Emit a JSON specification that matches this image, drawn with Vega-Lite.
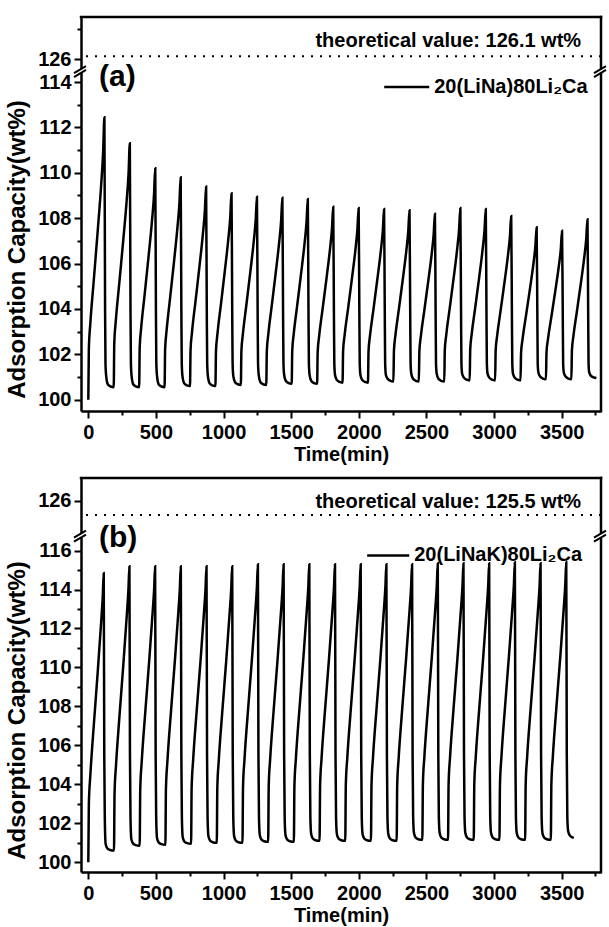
{
"$schema": "https://vega.github.io/schema/vega-lite/v6.json",
"padding": {"left": 5, "top": 15, "right": 6, "bottom": 4},
"background": "white",
"config": {
  "font": "Liberation Sans",
  "view": {"stroke": null},
  "axis": {"domainColor": "black", "domainWidth": 2.5, "tickColor": "black", "tickWidth": 2, "labelColor": "black", "labelFontSize": 20, "labelFontWeight": "bold", "titleColor": "black", "titleFontWeight": "bold", "titleFontSize": 20, "grid": false, "labelOverlap": false, "labelBound": false, "labelFlush": false, "tickCount": 100, "format": "d"}
},
"datasets": {
"a": [
{"t":0,"v":100.0},{"t":4,"v":102.24},{"t":15,"v":103.36},{"t":40,"v":105.23},{"t":70,"v":107.47},{"t":95,"v":109.46},{"t":110,"v":110.96},{"t":119,"v":112.45},{"t":124,"v":104.0},{"t":127,"v":101.6},{"t":132,"v":101.05},{"t":145,"v":100.67},{"t":165,"v":100.58},
{"t":188,"v":100.55},{"t":192,"v":102.49},{"t":203,"v":103.45},{"t":228,"v":105.07},{"t":258,"v":107.0},{"t":283,"v":108.72},{"t":298,"v":110.01},{"t":307,"v":111.3},{"t":312,"v":104.0},{"t":315,"v":101.6},{"t":320,"v":101.05},{"t":333,"v":100.67},{"t":353,"v":100.58},
{"t":376,"v":100.55},{"t":380,"v":102.29},{"t":391,"v":103.16},{"t":416,"v":104.6},{"t":446,"v":106.34},{"t":471,"v":107.88},{"t":486,"v":109.04},{"t":495,"v":110.2},{"t":500,"v":104.0},{"t":503,"v":101.6},{"t":508,"v":101.05},{"t":521,"v":100.67},{"t":541,"v":100.58},
{"t":564,"v":100.55},{"t":568,"v":102.22},{"t":579,"v":103.05},{"t":604,"v":104.44},{"t":634,"v":106.1},{"t":659,"v":107.58},{"t":674,"v":108.69},{"t":683,"v":109.8},{"t":688,"v":104.0},{"t":691,"v":101.6},{"t":696,"v":101.05},{"t":709,"v":100.72},{"t":729,"v":100.63},
{"t":752,"v":100.6},{"t":756,"v":102.18},{"t":767,"v":102.98},{"t":792,"v":104.3},{"t":822,"v":105.88},{"t":847,"v":107.29},{"t":862,"v":108.34},{"t":871,"v":109.4},{"t":876,"v":104.0},{"t":879,"v":101.6},{"t":884,"v":101.05},{"t":897,"v":100.72},{"t":917,"v":100.63},
{"t":940,"v":100.6},{"t":944,"v":102.13},{"t":955,"v":102.9},{"t":980,"v":104.17},{"t":1010,"v":105.7},{"t":1035,"v":107.06},{"t":1050,"v":108.08},{"t":1059,"v":109.1},{"t":1064,"v":104.0},{"t":1067,"v":101.6},{"t":1072,"v":101.05},{"t":1085,"v":100.77},{"t":1105,"v":100.68},
{"t":1128,"v":100.65},{"t":1132,"v":102.14},{"t":1143,"v":102.89},{"t":1168,"v":104.14},{"t":1198,"v":105.63},{"t":1223,"v":106.96},{"t":1238,"v":107.95},{"t":1247,"v":108.95},{"t":1252,"v":104.0},{"t":1255,"v":101.6},{"t":1260,"v":101.1},{"t":1273,"v":100.77},{"t":1293,"v":100.68},
{"t":1316,"v":100.65},{"t":1320,"v":102.14},{"t":1331,"v":102.88},{"t":1356,"v":104.12},{"t":1386,"v":105.6},{"t":1411,"v":106.92},{"t":1426,"v":107.91},{"t":1435,"v":108.9},{"t":1440,"v":104.0},{"t":1443,"v":101.6},{"t":1448,"v":101.1},{"t":1461,"v":100.82},{"t":1481,"v":100.73},
{"t":1504,"v":100.7},{"t":1508,"v":102.17},{"t":1519,"v":102.9},{"t":1544,"v":104.12},{"t":1574,"v":105.59},{"t":1599,"v":106.89},{"t":1614,"v":107.87},{"t":1623,"v":108.85},{"t":1628,"v":104.0},{"t":1631,"v":101.6},{"t":1636,"v":101.1},{"t":1649,"v":100.82},{"t":1669,"v":100.73},
{"t":1692,"v":100.7},{"t":1696,"v":102.1},{"t":1707,"v":102.81},{"t":1732,"v":103.98},{"t":1762,"v":105.38},{"t":1787,"v":106.63},{"t":1802,"v":107.56},{"t":1811,"v":108.5},{"t":1816,"v":104.0},{"t":1819,"v":101.6},{"t":1824,"v":101.1},{"t":1837,"v":100.87},{"t":1857,"v":100.78},
{"t":1880,"v":100.75},{"t":1884,"v":102.14},{"t":1895,"v":102.83},{"t":1920,"v":103.98},{"t":1950,"v":105.37},{"t":1975,"v":106.6},{"t":1990,"v":107.53},{"t":1999,"v":108.45},{"t":2004,"v":104.0},{"t":2007,"v":101.6},{"t":2012,"v":101.1},{"t":2025,"v":100.87},{"t":2045,"v":100.78},
{"t":2068,"v":100.75},{"t":2072,"v":102.13},{"t":2083,"v":102.82},{"t":2108,"v":103.96},{"t":2138,"v":105.34},{"t":2163,"v":106.56},{"t":2178,"v":107.48},{"t":2187,"v":108.4},{"t":2192,"v":104.0},{"t":2195,"v":101.6},{"t":2200,"v":101.1},{"t":2213,"v":100.92},{"t":2233,"v":100.83},
{"t":2256,"v":100.8},{"t":2260,"v":102.16},{"t":2271,"v":102.84},{"t":2296,"v":103.97},{"t":2326,"v":105.33},{"t":2351,"v":106.54},{"t":2366,"v":107.44},{"t":2375,"v":108.35},{"t":2380,"v":104.0},{"t":2383,"v":101.6},{"t":2388,"v":101.15},{"t":2401,"v":100.92},{"t":2421,"v":100.83},
{"t":2444,"v":100.8},{"t":2448,"v":102.13},{"t":2459,"v":102.8},{"t":2484,"v":103.91},{"t":2514,"v":105.24},{"t":2539,"v":106.42},{"t":2554,"v":107.31},{"t":2563,"v":108.2},{"t":2568,"v":104.0},{"t":2571,"v":101.6},{"t":2576,"v":101.15},{"t":2589,"v":100.92},{"t":2609,"v":100.83},
{"t":2632,"v":100.8},{"t":2636,"v":102.18},{"t":2647,"v":102.87},{"t":2672,"v":104.01},{"t":2702,"v":105.39},{"t":2727,"v":106.61},{"t":2742,"v":107.53},{"t":2751,"v":108.45},{"t":2756,"v":104.0},{"t":2759,"v":101.6},{"t":2764,"v":101.15},{"t":2777,"v":100.97},{"t":2797,"v":100.88},
{"t":2820,"v":100.85},{"t":2824,"v":102.21},{"t":2835,"v":102.89},{"t":2860,"v":104.02},{"t":2890,"v":105.38},{"t":2915,"v":106.59},{"t":2930,"v":107.49},{"t":2939,"v":108.4},{"t":2944,"v":104.0},{"t":2947,"v":101.6},{"t":2952,"v":101.15},{"t":2965,"v":100.97},{"t":2985,"v":100.88},
{"t":3008,"v":100.85},{"t":3012,"v":102.16},{"t":3023,"v":102.81},{"t":3048,"v":103.9},{"t":3078,"v":105.2},{"t":3103,"v":106.36},{"t":3118,"v":107.23},{"t":3127,"v":108.1},{"t":3132,"v":104.0},{"t":3135,"v":101.6},{"t":3140,"v":101.15},{"t":3153,"v":100.97},{"t":3173,"v":100.88},
{"t":3196,"v":100.85},{"t":3200,"v":102.07},{"t":3211,"v":102.67},{"t":3236,"v":103.69},{"t":3266,"v":104.9},{"t":3291,"v":105.98},{"t":3306,"v":106.79},{"t":3315,"v":107.6},{"t":3320,"v":104.0},{"t":3323,"v":101.6},{"t":3328,"v":101.2},{"t":3341,"v":101.02},{"t":3361,"v":100.93},
{"t":3384,"v":100.9},{"t":3388,"v":102.08},{"t":3399,"v":102.67},{"t":3424,"v":103.65},{"t":3454,"v":104.83},{"t":3479,"v":105.88},{"t":3494,"v":106.66},{"t":3503,"v":107.45},{"t":3508,"v":104.0},{"t":3511,"v":101.6},{"t":3516,"v":101.2},{"t":3529,"v":101.02},{"t":3549,"v":100.93},
{"t":3572,"v":100.9},{"t":3576,"v":102.17},{"t":3587,"v":102.8},{"t":3612,"v":103.86},{"t":3642,"v":105.13},{"t":3667,"v":106.26},{"t":3682,"v":107.1},{"t":3691,"v":107.95},{"t":3696,"v":104.0},{"t":3699,"v":101.6},{"t":3704,"v":101.2},{"t":3717,"v":101.05},{"t":3737,"v":100.98},{"t":3757,"v":100.95}
],
"b": [
{"t":0,"v":100.0},{"t":4,"v":102.97},{"t":15,"v":104.46},{"t":40,"v":106.98},{"t":70,"v":109.8},{"t":95,"v":112.33},{"t":107,"v":113.66},{"t":114,"v":114.85},{"t":118,"v":105.5},{"t":122,"v":102.3},{"t":128,"v":100.95},{"t":140,"v":100.72},{"t":160,"v":100.63},
{"t":190,"v":100.6},{"t":194,"v":103.52},{"t":205,"v":104.98},{"t":230,"v":107.46},{"t":260,"v":110.24},{"t":285,"v":112.72},{"t":297,"v":114.03},{"t":304,"v":115.2},{"t":308,"v":105.5},{"t":312,"v":102.3},{"t":318,"v":101.2},{"t":330,"v":100.97},{"t":350,"v":100.88},
{"t":380,"v":100.85},{"t":384,"v":103.72},{"t":395,"v":105.16},{"t":420,"v":107.59},{"t":450,"v":110.32},{"t":475,"v":112.76},{"t":487,"v":114.05},{"t":494,"v":115.2},{"t":498,"v":105.5},{"t":502,"v":102.3},{"t":508,"v":101.25},{"t":520,"v":101.02},{"t":540,"v":100.93},
{"t":570,"v":100.9},{"t":574,"v":103.76},{"t":585,"v":105.19},{"t":610,"v":107.62},{"t":640,"v":110.34},{"t":665,"v":112.77},{"t":677,"v":114.06},{"t":684,"v":115.2},{"t":688,"v":105.5},{"t":692,"v":102.3},{"t":698,"v":101.3},{"t":710,"v":101.07},{"t":730,"v":100.98},
{"t":760,"v":100.95},{"t":764,"v":103.8},{"t":775,"v":105.23},{"t":800,"v":107.65},{"t":830,"v":110.36},{"t":855,"v":112.78},{"t":867,"v":114.06},{"t":874,"v":115.2},{"t":878,"v":105.5},{"t":882,"v":102.3},{"t":888,"v":101.35},{"t":900,"v":101.12},{"t":920,"v":101.03},
{"t":950,"v":101.0},{"t":954,"v":103.84},{"t":965,"v":105.26},{"t":990,"v":107.67},{"t":1020,"v":110.37},{"t":1045,"v":112.79},{"t":1057,"v":114.06},{"t":1064,"v":115.2},{"t":1068,"v":105.5},{"t":1072,"v":102.3},{"t":1078,"v":101.35},{"t":1090,"v":101.12},{"t":1110,"v":101.03},
{"t":1140,"v":101.0},{"t":1144,"v":103.86},{"t":1155,"v":105.29},{"t":1180,"v":107.72},{"t":1210,"v":110.44},{"t":1235,"v":112.87},{"t":1247,"v":114.16},{"t":1254,"v":115.3},{"t":1258,"v":105.5},{"t":1262,"v":102.3},{"t":1268,"v":101.4},{"t":1280,"v":101.17},{"t":1300,"v":101.08},
{"t":1330,"v":101.05},{"t":1334,"v":103.9},{"t":1345,"v":105.33},{"t":1370,"v":107.75},{"t":1400,"v":110.46},{"t":1425,"v":112.88},{"t":1437,"v":114.16},{"t":1444,"v":115.3},{"t":1448,"v":105.5},{"t":1452,"v":102.3},{"t":1458,"v":101.4},{"t":1470,"v":101.17},{"t":1490,"v":101.08},
{"t":1520,"v":101.05},{"t":1524,"v":103.9},{"t":1535,"v":105.33},{"t":1560,"v":107.75},{"t":1590,"v":110.46},{"t":1615,"v":112.88},{"t":1627,"v":114.16},{"t":1634,"v":115.3},{"t":1638,"v":105.5},{"t":1642,"v":102.3},{"t":1648,"v":101.45},{"t":1660,"v":101.22},{"t":1680,"v":101.13},
{"t":1710,"v":101.1},{"t":1714,"v":103.94},{"t":1725,"v":105.36},{"t":1750,"v":107.77},{"t":1780,"v":110.47},{"t":1805,"v":112.89},{"t":1817,"v":114.16},{"t":1824,"v":115.3},{"t":1828,"v":105.5},{"t":1832,"v":102.3},{"t":1838,"v":101.45},{"t":1850,"v":101.22},{"t":1870,"v":101.13},
{"t":1900,"v":101.1},{"t":1904,"v":103.94},{"t":1915,"v":105.36},{"t":1940,"v":107.77},{"t":1970,"v":110.47},{"t":1995,"v":112.89},{"t":2007,"v":114.16},{"t":2014,"v":115.3},{"t":2018,"v":105.5},{"t":2022,"v":102.3},{"t":2028,"v":101.45},{"t":2040,"v":101.22},{"t":2060,"v":101.13},
{"t":2090,"v":101.1},{"t":2094,"v":103.94},{"t":2105,"v":105.36},{"t":2130,"v":107.77},{"t":2160,"v":110.47},{"t":2185,"v":112.89},{"t":2197,"v":114.16},{"t":2204,"v":115.3},{"t":2208,"v":105.5},{"t":2212,"v":102.3},{"t":2218,"v":101.45},{"t":2230,"v":101.22},{"t":2250,"v":101.13},
{"t":2280,"v":101.1},{"t":2284,"v":103.94},{"t":2295,"v":105.36},{"t":2320,"v":107.77},{"t":2350,"v":110.47},{"t":2375,"v":112.89},{"t":2387,"v":114.16},{"t":2394,"v":115.3},{"t":2398,"v":105.5},{"t":2402,"v":102.3},{"t":2408,"v":101.5},{"t":2420,"v":101.27},{"t":2440,"v":101.18},
{"t":2470,"v":101.15},{"t":2474,"v":103.99},{"t":2485,"v":105.41},{"t":2510,"v":107.82},{"t":2540,"v":110.52},{"t":2565,"v":112.94},{"t":2577,"v":114.21},{"t":2584,"v":115.35},{"t":2588,"v":105.5},{"t":2592,"v":102.3},{"t":2598,"v":101.5},{"t":2610,"v":101.27},{"t":2630,"v":101.18},
{"t":2660,"v":101.15},{"t":2664,"v":103.99},{"t":2675,"v":105.41},{"t":2700,"v":107.82},{"t":2730,"v":110.52},{"t":2755,"v":112.94},{"t":2767,"v":114.21},{"t":2774,"v":115.35},{"t":2778,"v":105.5},{"t":2782,"v":102.3},{"t":2788,"v":101.5},{"t":2800,"v":101.27},{"t":2820,"v":101.18},
{"t":2850,"v":101.15},{"t":2854,"v":103.99},{"t":2865,"v":105.41},{"t":2890,"v":107.82},{"t":2920,"v":110.52},{"t":2945,"v":112.94},{"t":2957,"v":114.21},{"t":2964,"v":115.35},{"t":2968,"v":105.5},{"t":2972,"v":102.3},{"t":2978,"v":101.5},{"t":2990,"v":101.27},{"t":3010,"v":101.18},
{"t":3040,"v":101.15},{"t":3044,"v":104.0},{"t":3055,"v":105.43},{"t":3080,"v":107.85},{"t":3110,"v":110.56},{"t":3135,"v":112.98},{"t":3147,"v":114.26},{"t":3154,"v":115.4},{"t":3158,"v":105.5},{"t":3162,"v":102.3},{"t":3168,"v":101.5},{"t":3180,"v":101.27},{"t":3200,"v":101.18},
{"t":3230,"v":101.15},{"t":3234,"v":103.99},{"t":3245,"v":105.41},{"t":3270,"v":107.82},{"t":3300,"v":110.52},{"t":3325,"v":112.94},{"t":3337,"v":114.21},{"t":3344,"v":115.35},{"t":3348,"v":105.5},{"t":3352,"v":102.3},{"t":3358,"v":101.5},{"t":3370,"v":101.27},{"t":3390,"v":101.18},
{"t":3420,"v":101.15},{"t":3424,"v":104.0},{"t":3435,"v":105.43},{"t":3460,"v":107.85},{"t":3490,"v":110.56},{"t":3515,"v":112.98},{"t":3527,"v":114.26},{"t":3534,"v":115.4},{"t":3538,"v":105.5},{"t":3542,"v":102.3},{"t":3548,"v":101.6},{"t":3560,"v":101.38},{"t":3580,"v":101.28},{"t":3590,"v":101.25}
]
},
"bounds": "flush",
"spacing": 67,
"vconcat": [
{
  "width": 520, "height": 394,
  "layer": [
    {"data": {"name": "a"},
     "mark": {"type": "line", "color": "black", "strokeWidth": 2.5, "interpolate": "monotone"},
     "encoding": {
       "x": {"field": "t", "type": "quantitative",
             "scale": {"domain": [-54, 3791], "nice": false, "zero": false},
             "axis": {"title": "Time(min)", "values": [0,250,500,750,1000,1250,1500,1750,2000,2250,2500,2750,3000,3250,3500,3750], "format": "d", "tickCount": 100,
                      "labelExpr": "datum.value % 500 === 0 ? datum.label : ''",
                      "tickSize": {"condition": {"test": "datum.value % 500 !== 0", "value": 4}, "value": 7},
                      "labelPadding": 4, "titlePadding": 2}},
       "y": {"field": "v", "type": "quantitative",
             "scale": {"domain": [99.5, 114.4, 125.55, 127.4], "range": [394, 56, 56, 0], "nice": false, "zero": false},
             "axis": {"title": "Adsorption Capacity(wt%)", "values": [100,101,102,103,104,105,106,107,108,109,110,111,112,113,114,126,127], "format": "d", "tickCount": 100,
                      "labelExpr": "datum.value % 2 === 0 ? datum.label : ''",
                      "tickSize": {"condition": {"test": "datum.value % 2 !== 0", "value": 4}, "value": 7},
                      "labelPadding": 3, "titleFontSize": 24, "titleY": 232, "titlePadding": 8}}
     }},
    {"data": {"values": [{}]}, "mark": {"type": "rule", "color": "black", "strokeWidth": 2, "strokeDash": [2, 7]}, "encoding": {"y": {"datum": 126.1}}},
    {"data": {"values": [{}]}, "mark": {"type": "rule", "color": "black", "strokeWidth": 2.5, "strokeCap": "square"}, "encoding": {"y": {"datum": 127.4}}},
    {"data": {"values": [{}]}, "mark": {"type": "rule", "color": "black", "strokeWidth": 2.5, "strokeCap": "square"}, "encoding": {"x": {"datum": 3791}}},
    {"data": {"values": [{}]}, "mark": {"type": "rule", "color": "white", "strokeWidth": 6}, "encoding": {"x": {"datum": -54}, "y": {"datum": 125.56}, "y2": {"datum": 125.68}}},
    {"data": {"values": [{}]}, "mark": {"type": "rule", "color": "white", "strokeWidth": 6}, "encoding": {"x": {"datum": 3791}, "y": {"datum": 125.56}, "y2": {"datum": 125.68}}},
    {"data": {"values": [{}]}, "mark": {"type": "rule", "color": "black", "strokeWidth": 2}, "encoding": {"x": {"datum": -106}, "x2": {"datum": -17}, "y": {"datum": 114.22}, "y2": {"datum": 125.65}}},
    {"data": {"values": [{}]}, "mark": {"type": "rule", "color": "black", "strokeWidth": 2}, "encoding": {"x": {"datum": -106}, "x2": {"datum": -17}, "y": {"datum": 114.39}, "y2": {"datum": 125.78}}},
    {"data": {"values": [{}]}, "mark": {"type": "rule", "color": "black", "strokeWidth": 2}, "encoding": {"x": {"datum": 3739}, "x2": {"datum": 3828}, "y": {"datum": 114.22}, "y2": {"datum": 125.65}}},
    {"data": {"values": [{}]}, "mark": {"type": "rule", "color": "black", "strokeWidth": 2}, "encoding": {"x": {"datum": 3739}, "x2": {"datum": 3828}, "y": {"datum": 114.39}, "y2": {"datum": 125.78}}},
    {"data": {"values": [{}]}, "mark": {"type": "rule", "color": "black", "strokeWidth": 2.5}, "encoding": {"x": {"datum": 2188}, "x2": {"datum": 2521}, "y": {"datum": 113.78}}},
    {"data": {"values": [{"label": "20(LiNa)80Li₂Ca"}]}, "mark": {"type": "text", "align": "left", "baseline": "middle", "fontSize": 20, "fontWeight": "bold", "color": "black"}, "encoding": {"x": {"datum": 2558}, "y": {"datum": 113.78}, "text": {"field": "label"}}},
    {"data": {"values": [{"label": "theoretical value: 126.1 wt%"}]}, "mark": {"type": "text", "align": "right", "baseline": "alphabetic", "fontSize": 20, "fontWeight": "bold", "color": "black"}, "encoding": {"x": {"datum": 3644}, "y": {"datum": 126.41}, "text": {"field": "label"}}},
    {"data": {"values": [{"label": "(a)"}]}, "mark": {"type": "text", "align": "left", "baseline": "middle", "fontSize": 30, "fontWeight": "bold", "color": "black"}, "encoding": {"x": {"datum": 79}, "y": {"datum": 114.22}, "text": {"field": "label"}}}
  ]
},
{
  "width": 520, "height": 394,
  "layer": [
    {"data": {"name": "b"},
     "mark": {"type": "line", "color": "black", "strokeWidth": 2.5, "interpolate": "monotone"},
     "encoding": {
       "x": {"field": "t", "type": "quantitative",
             "scale": {"domain": [-54, 3791], "nice": false, "zero": false},
             "axis": {"title": "Time(min)", "values": [0,250,500,750,1000,1250,1500,1750,2000,2250,2500,2750,3000,3250,3500,3750], "format": "d", "tickCount": 100,
                      "labelExpr": "datum.value % 500 === 0 ? datum.label : ''",
                      "tickSize": {"condition": {"test": "datum.value % 500 !== 0", "value": 4}, "value": 7},
                      "labelPadding": 4, "titlePadding": 2}},
       "y": {"field": "v", "type": "quantitative",
             "scale": {"domain": [99.5, 116.67, 124.72, 126.78], "range": [394, 59.5, 59.5, 0], "nice": false, "zero": false},
             "axis": {"title": "Adsorption Capacity(wt%)", "values": [100,101,102,103,104,105,106,107,108,109,110,111,112,113,114,115,116,126], "format": "d", "tickCount": 100,
                      "labelExpr": "datum.value % 2 === 0 ? datum.label : ''",
                      "tickSize": {"condition": {"test": "datum.value % 2 !== 0", "value": 4}, "value": 7},
                      "labelPadding": 3, "titleFontSize": 24, "titleY": 232, "titlePadding": 8}}
     }},
    {"data": {"values": [{}]}, "mark": {"type": "rule", "color": "black", "strokeWidth": 2, "strokeDash": [2, 7]}, "encoding": {"y": {"datum": 125.5}}},
    {"data": {"values": [{}]}, "mark": {"type": "rule", "color": "black", "strokeWidth": 2.5, "strokeCap": "square"}, "encoding": {"y": {"datum": 126.78}}},
    {"data": {"values": [{}]}, "mark": {"type": "rule", "color": "black", "strokeWidth": 2.5, "strokeCap": "square"}, "encoding": {"x": {"datum": 3791}}},
    {"data": {"values": [{}]}, "mark": {"type": "rule", "color": "white", "strokeWidth": 6}, "encoding": {"x": {"datum": -54}, "y": {"datum": 124.73}, "y2": {"datum": 124.86}}},
    {"data": {"values": [{}]}, "mark": {"type": "rule", "color": "white", "strokeWidth": 6}, "encoding": {"x": {"datum": 3791}, "y": {"datum": 124.73}, "y2": {"datum": 124.86}}},
    {"data": {"values": [{}]}, "mark": {"type": "rule", "color": "black", "strokeWidth": 2}, "encoding": {"x": {"datum": -106}, "x2": {"datum": -17}, "y": {"datum": 116.46}, "y2": {"datum": 124.82}}},
    {"data": {"values": [{}]}, "mark": {"type": "rule", "color": "black", "strokeWidth": 2}, "encoding": {"x": {"datum": -106}, "x2": {"datum": -17}, "y": {"datum": 116.66}, "y2": {"datum": 124.96}}},
    {"data": {"values": [{}]}, "mark": {"type": "rule", "color": "black", "strokeWidth": 2}, "encoding": {"x": {"datum": 3739}, "x2": {"datum": 3828}, "y": {"datum": 116.46}, "y2": {"datum": 124.82}}},
    {"data": {"values": [{}]}, "mark": {"type": "rule", "color": "black", "strokeWidth": 2}, "encoding": {"x": {"datum": 3739}, "x2": {"datum": 3828}, "y": {"datum": 116.66}, "y2": {"datum": 124.96}}},
    {"data": {"values": [{}]}, "mark": {"type": "rule", "color": "black", "strokeWidth": 2.5}, "encoding": {"x": {"datum": 2062}, "x2": {"datum": 2373}, "y": {"datum": 115.75}}},
    {"data": {"values": [{"label": "20(LiNaK)80Li₂Ca"}]}, "mark": {"type": "text", "align": "left", "baseline": "middle", "fontSize": 20, "fontWeight": "bold", "color": "black"}, "encoding": {"x": {"datum": 2410}, "y": {"datum": 115.75}, "text": {"field": "label"}}},
    {"data": {"values": [{"label": "theoretical value: 125.5 wt%"}]}, "mark": {"type": "text", "align": "right", "baseline": "alphabetic", "fontSize": 20, "fontWeight": "bold", "color": "black"}, "encoding": {"x": {"datum": 3644}, "y": {"datum": 125.75}, "text": {"field": "label"}}},
    {"data": {"values": [{"label": "(b)"}]}, "mark": {"type": "text", "align": "left", "baseline": "middle", "fontSize": 30, "fontWeight": "bold", "color": "black"}, "encoding": {"x": {"datum": 79}, "y": {"datum": 116.66}, "text": {"field": "label"}}}
  ]
}
]
}
